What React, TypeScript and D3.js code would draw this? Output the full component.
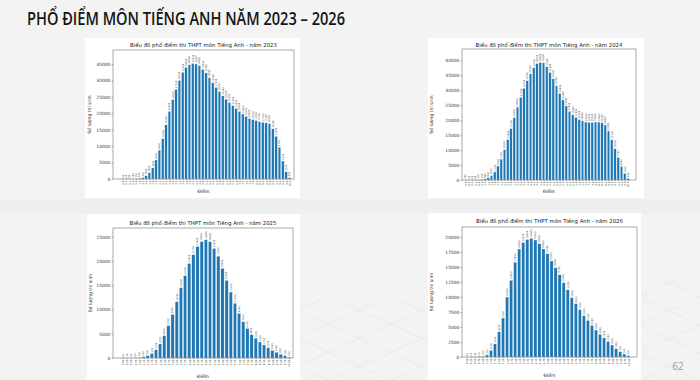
import React, { useEffect, useRef } from "react";
import * as d3 from "d3";

const W = 700;
const H = 380;

// score categories (0.2 steps for 2023/2024, 0.25 steps for 2025/2026)
const scoresStep02 = [
  "0.0", "0.2", "0.4", "0.6", "0.8", "1.0", "1.2", "1.4", "1.6", "1.8",
  "2.0", "2.2", "2.4", "2.6", "2.8", "3.0", "3.2", "3.4", "3.6", "3.8",
  "4.0", "4.2", "4.4", "4.6", "4.8", "5.0", "5.2", "5.4", "5.6", "5.8",
  "6.0", "6.2", "6.4", "6.6", "6.8", "7.0", "7.2", "7.4", "7.6", "7.8",
  "8.0", "8.2", "8.4", "8.6", "8.8", "9.0", "9.2", "9.4", "9.6", "9.8",
  "10.0",
];
const scoresStep025 = [
  "0.00", "0.25", "0.50", "0.75", "1.00", "1.25", "1.50", "1.75", "2.00", "2.25",
  "2.50", "2.75", "3.00", "3.25", "3.50", "3.75", "4.00", "4.25", "4.50", "4.75",
  "5.00", "5.25", "5.50", "5.75", "6.00", "6.25", "6.50", "6.75", "7.00", "7.25",
  "7.50", "7.75", "8.00", "8.25", "8.50", "8.75", "9.00", "9.25", "9.50", "9.75",
  "10.00",
];

const counts2023 = [
  50, 60, 80, 100, 150, 250, 450, 1000, 1900, 3400,
  5800, 8800, 12300, 16500, 20600, 24200, 27300, 30000, 32500, 34000,
  34800, 35200, 35000, 34500, 33400, 32300, 30800, 29300, 27900, 26600,
  25300, 24300, 23300, 22400, 21500, 20600, 19800, 19100, 18500, 18100,
  17800, 17500, 17300, 17100, 16900, 15300, 13000, 9700, 5500, 2200,
  500,
];
const counts2024 = [
  100, 50, 60, 80, 150, 250, 400, 800, 1500, 2700,
  4700, 7000, 10200, 13600, 17200, 20900, 24400, 27700, 30700, 33200,
  35500, 37600, 39000, 39400, 39300, 37900, 36000, 33900, 31500, 29000,
  26800, 24800, 23000, 21800, 21000, 20300, 19800, 19400, 19300, 19300,
  19400, 19400, 19100, 18400, 16400, 13500, 10500, 7600, 4600, 2200,
  600,
];
const counts2025 = [
  20, 30, 50, 80, 120, 250, 500, 950, 1700, 2900,
  4600, 6700, 9000, 11600, 14500, 17000, 19500, 21300, 23000, 24000,
  24400, 24000, 22600, 21000, 18500, 16000, 13600, 11300, 9200, 7500,
  6100, 4800, 4100, 3300, 2700, 2100, 1600, 1200, 800, 500,
  200,
];
const counts2026 = [
  10, 20, 30, 60, 150, 350, 1100, 2200, 4200, 6500,
  10000, 12800, 15800, 18000, 19100, 19600, 19800, 19500, 18900, 18000,
  17200, 16000, 14900, 13700, 12400, 11200, 9900, 8900, 7900, 6900,
  6100, 5300, 4500, 3800, 3200, 2600, 2000, 1400, 900, 500,
  250,
];

const yTicks2023 = [0, 5000, 10000, 15000, 20000, 25000, 30000, 35000];
const yTicks2024 = [0, 5000, 10000, 15000, 20000, 25000, 30000, 35000, 40000];
const yTicks2025 = [0, 5000, 10000, 15000, 20000, 25000];
const yTicks2026 = [0, 2500, 5000, 7500, 10000, 12500, 15000, 17500, 20000];

const charts = [
  {
    year: "2023", scores: scoresStep02, counts: counts2023, yTicks: yTicks2023,
    panel: { x: 85, y: 38, w: 215, h: 160 },
    frame: { l: 113, r: 294, t: 50, b: 179 },
    yMax: 39260, firstX: 122.7, lastX: 289.5, titleY: 47, xLabelY: 193, yLabelX: 91,
  },
  {
    year: "2024", scores: scoresStep02, counts: counts2024, yTicks: yTicks2024,
    panel: { x: 428, y: 38, w: 216, h: 160 },
    frame: { l: 462, r: 636, t: 49, b: 180 },
    yMax: 43830, firstX: 465.5, lastX: 628, titleY: 47, xLabelY: 193, yLabelX: 433,
  },
  {
    year: "2025", scores: scoresStep025, counts: counts2025, yTicks: yTicks2025,
    panel: { x: 87, y: 214, w: 213, h: 166 },
    frame: { l: 113, r: 293, t: 228, b: 358 },
    yMax: 26790, firstX: 122.7, lastX: 289, titleY: 225, xLabelY: 378, yLabelX: 92,
  },
  {
    year: "2026", scores: scoresStep025, counts: counts2026, yTicks: yTicks2026,
    panel: { x: 428, y: 213, w: 213, h: 167 },
    frame: { l: 462, r: 637, t: 227, b: 357 },
    yMax: 21660, firstX: 466.7, lastX: 628.3, titleY: 223, xLabelY: 377, yLabelX: 433,
  },
];

const mpl = "'DejaVu Sans', sans-serif";

const App = () => {
  const svgRef = useRef(null);

  useEffect(() => {
    const svg = d3.select(svgRef.current);
    svg.selectAll("*").remove();

    // slide background
    svg.append("rect").attr("width", W).attr("height", H).attr("fill", "#f3f3f3");
    svg.append("rect").attr("x", 0).attr("y", 199).attr("width", W).attr("height", 15).attr("fill", "#efefef");

    // faint isometric pattern bottom right
    const defs = svg.append("defs");
    const clip = defs.append("clipPath").attr("id", "iso");
    clip.append("rect").attr("x", 300).attr("y", 300).attr("width", 128).attr("height", 80);
    clip.append("rect").attr("x", 641).attr("y", 280).attr("width", 59).attr("height", 100);
    const iso = svg.append("g").attr("clip-path", "url(#iso)").attr("stroke", "#e6e6e6").attr("stroke-width", 0.7);
    for (let k = -10; k < 20; k++) {
      const c = 250 + k * 28;
      iso.append("line").attr("x1", 280).attr("y1", c + 180).attr("x2", 720).attr("y2", c - 18);
      iso.append("line").attr("x1", 280).attr("y1", c - 200).attr("x2", 720).attr("y2", c);
    }

    // slide title
    svg.append("text")
      .attr("x", 27).attr("y", 25)
      .attr("textLength", 318).attr("lengthAdjust", "spacingAndGlyphs")
      .style("font-family", "'Open Sans', sans-serif")
      .style("font-weight", 600)
      .style("font-size", "18.5px")
      .attr("fill", "#151515")
      .text("PHỔ ĐIỂM MÔN TIẾNG ANH NĂM 2023 – 2026");

    svg.append("text")
      .attr("x", 678).attr("y", 370)
      .attr("text-anchor", "middle")
      .style("font-family", "'Open Sans', sans-serif")
      .style("font-size", "10px")
      .attr("fill", "#9a9a9a")
      .text("62");

    charts.forEach((c) => {
      const g = svg.append("g");
      const { l, r, t, b } = c.frame;
      const n = c.counts.length;

      g.append("rect")
        .attr("x", c.panel.x).attr("y", c.panel.y)
        .attr("width", c.panel.w).attr("height", c.panel.h)
        .attr("fill", "#ffffff");

      const x = d3.scaleLinear().domain([0, n - 1]).range([c.firstX, c.lastX]);
      const step = x(1) - x(0);
      const bw = step * 0.8;
      const y = d3.scaleLinear().domain([0, c.yMax]).range([b, t]);

      g.append("g")
        .selectAll("rect")
        .data(c.counts)
        .enter()
        .append("rect")
        .attr("x", (d, i) => x(i) - bw / 2)
        .attr("y", (d) => y(d))
        .attr("width", bw)
        .attr("height", (d) => b - y(d))
        .attr("fill", "#1f77b4")
        .attr("stroke", "#ffffff")
        .attr("stroke-width", 0.4);

      // value labels above bars
      g.append("g")
        .selectAll("text")
        .data(c.counts)
        .enter()
        .append("text")
        .attr("transform", (d, i) => `translate(${x(i) + 0.8},${y(d) - 1}) rotate(-90)`)
        .style("font-family", mpl)
        .style("font-size", "2.4px")
        .attr("fill", "#555")
        .text((d) => d);

      // frame
      g.append("rect")
        .attr("x", l).attr("y", t)
        .attr("width", r - l).attr("height", b - t)
        .attr("fill", "none")
        .attr("stroke", "#555")
        .attr("stroke-width", 0.5);

      // y axis
      const yAxis = g.append("g")
        .attr("transform", `translate(${l},0)`)
        .call(d3.axisLeft(y).tickValues(c.yTicks).tickSize(1.5).tickPadding(1.2).tickFormat(d3.format("d")));
      yAxis.select(".domain").remove();
      yAxis.selectAll("line").attr("stroke", "#555").attr("stroke-width", 0.5);
      yAxis.selectAll("text")
        .style("font-family", mpl)
        .style("font-size", "4.4px")
        .attr("fill", "#333");

      // x axis with rotated score labels
      const xAxis = g.append("g")
        .attr("transform", `translate(0,${b})`)
        .call(d3.axisBottom(x).tickValues(d3.range(n)).tickSize(1).tickFormat((i) => c.scores[i]));
      xAxis.select(".domain").remove();
      xAxis.selectAll("line").attr("stroke", "#555").attr("stroke-width", 0.4);
      xAxis.selectAll("text")
        .attr("transform", "rotate(-90)")
        .attr("x", -1.5)
        .attr("y", 0)
        .attr("dy", "0.35em")
        .attr("text-anchor", "end")
        .style("font-family", mpl)
        .style("font-size", "2.6px")
        .attr("fill", "#444");

      // titles
      g.append("text")
        .attr("x", (l + r) / 2).attr("y", c.titleY)
        .attr("text-anchor", "middle")
        .style("font-family", mpl)
        .style("font-size", "5.4px")
        .attr("fill", "#222")
        .text(`Biểu đồ phổ điểm thi THPT môn Tiếng Anh - năm ${c.year}`);

      g.append("text")
        .attr("x", (l + r) / 2).attr("y", c.xLabelY)
        .attr("text-anchor", "middle")
        .style("font-family", mpl)
        .style("font-size", "4.6px")
        .attr("fill", "#222")
        .text("Điểm");

      g.append("text")
        .attr("transform", `translate(${c.yLabelX},${(t + b) / 2}) rotate(-90)`)
        .attr("text-anchor", "middle")
        .style("font-family", mpl)
        .style("font-size", "4.6px")
        .attr("fill", "#222")
        .text("Số lượng thí sinh");
    });
  }, []);

  return (
    <svg
      ref={svgRef}
      width={W}
      height={H}
      style={{ position: "absolute", left: 0, top: 0, display: "block" }}
    ></svg>
  );
};

export default App;
